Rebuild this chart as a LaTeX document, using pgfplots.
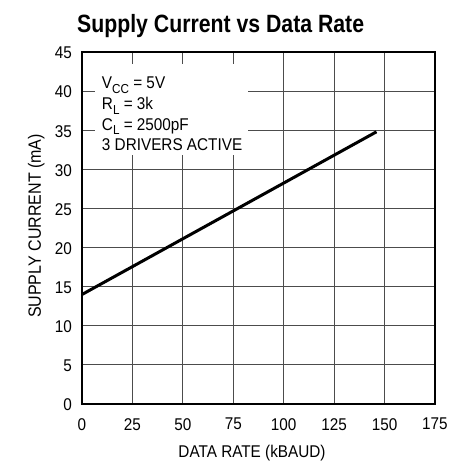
\documentclass[border=0pt]{standalone}
\usepackage{fontspec}
\setmainfont{Liberation Sans}[FakeStretch=0.9]
\newfontfamily\titlefont{Liberation Sans}[FakeStretch=0.85]
\usepackage{pgfplots}
\pgfplotsset{compat=1.18}
\begin{document}
\begin{tikzpicture}
\newcommand{\lbl}{\fontsize{17}{20}\selectfont}
\newcommand{\sub}[1]{\raisebox{-0.28em}{\fontsize{13}{13}\selectfont #1}}
\begin{axis}[
  at={(0pt,0pt)}, anchor=south west,
  scale only axis, width=353pt, height=352pt,
  xmin=0, xmax=175, ymin=0, ymax=45,
  xtick={0,25,...,175}, ytick={0,5,...,45},
  grid=major,
  grid style={line width=1.2pt, color=black!70},
  axis line style={line width=1.6pt, black},
  major tick length=0pt,
  /pgf/number format/assume math mode=true,
  tick label style={font=\lbl, text=black},
  xticklabel style={anchor=north, inner sep=0pt, yshift=-14pt},
  yticklabel style={anchor=east, inner sep=0pt, xshift=-10pt, yshift=-1pt},
  clip=false,
]
\fill[white] (axis cs:6.4,31.8) rectangle (axis cs:82.3,43.5);
\node[anchor=base west, inner sep=0pt, font=\lbl] at (axis cs:9.8,40.3) {V\sub{CC} = 5V};
\node[anchor=base west, inner sep=0pt, font=\lbl] at (axis cs:9.8,37.65) {R\sub{L} = 3k};
\node[anchor=base west, inner sep=0pt, font=\lbl] at (axis cs:9.8,35.0) {C\sub{L} = 2500pF};
\node[anchor=base west, inner sep=0pt, font=\lbl] at (axis cs:9.8,32.35) {3 DRIVERS ACTIVE};
\addplot[black, line width=3pt, line cap=butt] coordinates {(0,14.0) (146,34.8)};
\end{axis}
\node[anchor=base, inner sep=0pt, font=\lbl] at (170pt,-53pt) {DATA RATE (kBAUD)};
\node[anchor=base, rotate=90, inner sep=0pt, font=\fontsize{17.8}{20}\selectfont] at (-41pt,178pt) {SUPPLY CURRENT (mA)};
\node[anchor=base west, inner sep=0pt, font=\titlefont\bfseries\fontsize{25}{28}\selectfont] at (-5pt,371pt) {Supply Current vs Data Rate};
\pgfresetboundingbox
\useasboundingbox (-82pt,-57pt) rectangle (368pt,404pt);
\end{tikzpicture}
\end{document}
